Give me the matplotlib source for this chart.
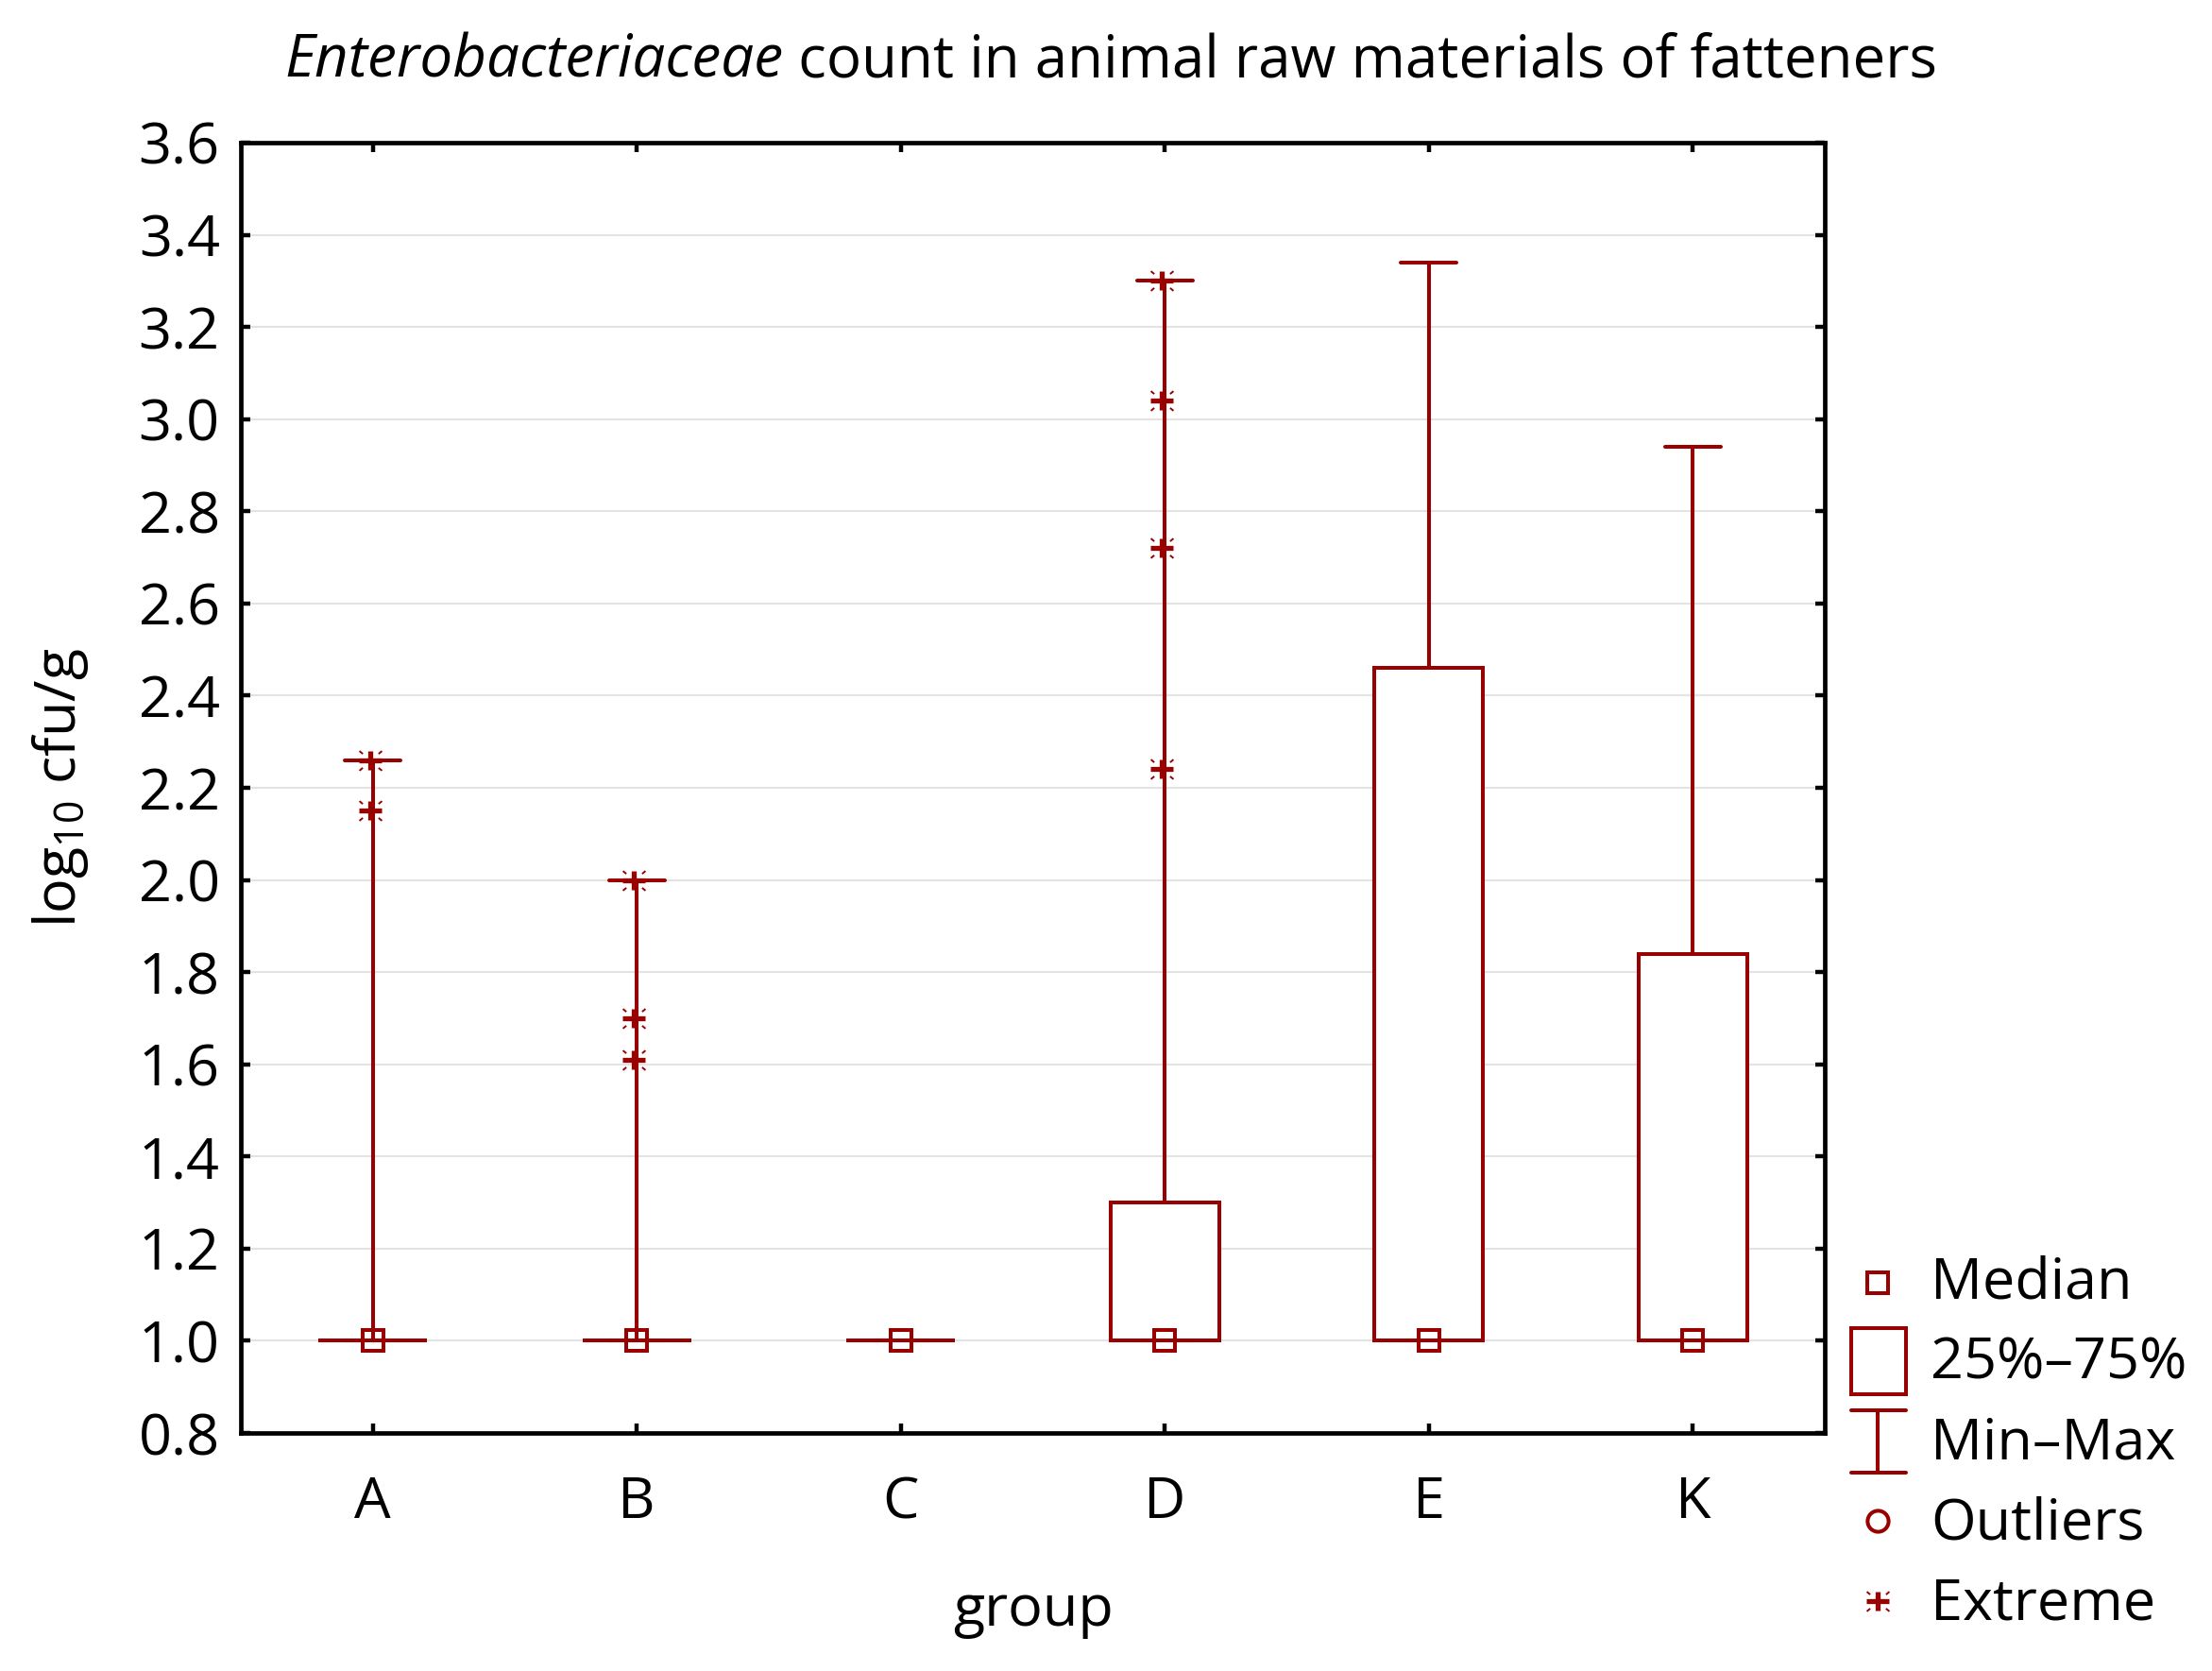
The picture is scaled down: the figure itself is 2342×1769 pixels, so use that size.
import matplotlib
matplotlib.use('Agg')
import matplotlib.pyplot as plt
from matplotlib.path import Path
from matplotlib.patches import Rectangle
import numpy as np

# ---- data ----
groups = ['A', 'B', 'C', 'D', 'E', 'K']
medians = [1.0, 1.0, 1.0, 1.0, 1.0, 1.0]
q1 = [1.0, 1.0, 1.0, 1.0, 1.0, 1.0]
q3 = [1.0, 1.0, 1.0, 1.30, 2.46, 1.84]
mins = [1.0, 1.0, 1.0, 1.0, 1.0, 1.0]
maxs = [2.26, 2.00, 1.00, 3.30, 3.34, 2.94]
extreme_A = [2.26, 2.15]
extreme_B = [2.00, 1.70, 1.61]
extreme_C = []
extreme_D = [3.30, 3.04, 2.72, 2.24]
extreme_E = []
extreme_K = []
extremes = [extreme_A, extreme_B, extreme_C, extreme_D, extreme_E, extreme_K]
yticks = [0.8, 1.0, 1.2, 1.4, 1.6, 1.8, 2.0, 2.2, 2.4, 2.6, 2.8, 3.0, 3.2, 3.4, 3.6]
legend_labels = ['Median', '25%\u201375%', 'Min\u2013Max', 'Outliers', 'Extreme']
title_italic = 'Enterobacteriaceae'
title_rest = ' count in animal raw materials of fatteners'

RED = '#990000'
FS = 22
LW = 1.45

plt.rcParams['font.family'] = ['Open Sans', 'DejaVu Sans']
plt.rcParams['mathtext.fontset'] = 'custom'
plt.rcParams['mathtext.rm'] = 'Open Sans'

W, H = 2342, 1769
AX_L, AX_R, AX_T, AX_B = 255, 1932, 151, 1517
fig = plt.figure(figsize=(W / 200, H / 200), dpi=200)
ax = fig.add_axes([AX_L / W, 1 - AX_B / H, (AX_R - AX_L) / W, (AX_B - AX_T) / H])

# extreme marker: thick plus + thin corner dashes
plus_path = Path([(-1, 0), (1, 0), (0, -0.87), (0, 0.87)],
                 [Path.MOVETO, Path.LINETO, Path.MOVETO, Path.LINETO])
dv, dc = [], []
for sx in (-1, 1):
    for sy in (-1, 1):
        dv += [(0.70 * sx, 0.62 * sy), (1.0 * sx, 0.87 * sy)]
        dc += [Path.MOVETO, Path.LINETO]
diag_path = Path(dv, dc)

x = np.arange(1, len(groups) + 1)
BW = 0.41
CW = 0.21
for i in range(len(groups)):
    xi = x[i]
    ax.vlines(xi, q3[i], maxs[i], color=RED, lw=LW, zorder=3)
    ax.vlines(xi, mins[i], q1[i], color=RED, lw=LW, zorder=3)
    ax.hlines([mins[i], maxs[i]], xi - CW / 2, xi + CW / 2, color=RED, lw=LW,
              zorder=3, capstyle='round')
    ax.add_patch(Rectangle((xi - BW / 2, q1[i]), BW, q3[i] - q1[i], fc='white',
                           ec=RED, lw=LW, zorder=4))
    if extremes[i]:
        ex = [xi - 0.01] * len(extremes[i])
        ax.plot(ex, extremes[i], linestyle='none', marker=plus_path, ms=8.6,
                mec=RED, mew=1.9, zorder=6)
        ax.plot(ex, extremes[i], linestyle='none', marker=diag_path, ms=8.6,
                mec=RED, mew=0.7, zorder=6)
ax.plot(x, medians, linestyle='none', marker='s', ms=8, mfc='none', mec=RED,
        mew=LW, zorder=5)

ax.set_xlim(0.5, len(groups) + 0.5)
ax.set_ylim(0.8, 3.6)
ax.set_xticks(x)
ax.set_xticklabels(groups)
ax.set_yticks(yticks)
ax.set_yticklabels([f'{v:.1f}' for v in yticks])
ax.yaxis.grid(True, color='#e3e3e3', lw=0.75)
ax.set_axisbelow(True)
for s in ax.spines.values():
    s.set_linewidth(1.7)
ax.tick_params(axis='both', direction='in', length=3.6, width=1.6, top=True,
               right=True, labelsize=FS, colors='black')
ax.tick_params(axis='y', pad=8)
ax.tick_params(axis='x', pad=16)

ax.set_xlabel('group', fontsize=FS, va='center')
ax.xaxis.set_label_coords(0.5, -(1705 - AX_B) / (AX_B - AX_T))
ax.set_ylabel(r'log$_{\mathregular{10}}$ cfu/g', fontsize=FS, va='center')
ax.yaxis.set_label_coords(-(AX_L - 64) / (AX_R - AX_L), 0.5)

# title: italic + regular part, centred together
TFS = 22.3
ty = 1 - 82 / H
t1 = fig.text(0, ty, title_italic, style='italic', fontsize=TFS, va='baseline')
t2 = fig.text(0, ty, title_rest, fontsize=TFS, va='baseline')
fig.canvas.draw()
r = fig.canvas.get_renderer()
w1 = t1.get_window_extent(r).width
w2 = t2.get_window_extent(r).width
x0 = (0.5035 * W - 3) - (w1 + w2) / 2
t1.set_x(x0 / W)
t2.set_x((x0 + w1) / W)

# legend drawn in pixel coordinates on an overlay axes
lg = fig.add_axes([0, 0, 1, 1], zorder=10)
lg.set_xlim(0, W)
lg.set_ylim(H, 0)
lg.axis('off')
lx = 1988
lg.plot([lx], [1358], marker='s', ms=8, mfc='none', mec=RED, mew=LW, linestyle='none')
lg.add_patch(Rectangle((1960, 1406), 58, 70, fc='white', ec=RED, lw=LW))
lg.plot([lx, lx], [1493, 1559], color=RED, lw=LW)
lg.plot([1960, 2018], [1493, 1493], color=RED, lw=LW, solid_capstyle='round')
lg.plot([1960, 2018], [1559, 1559], color=RED, lw=LW, solid_capstyle='round')
lg.plot([lx], [1610], marker='o', ms=8, mfc='none', mec=RED, mew=LW, linestyle='none')
lg.plot([lx], [1695], marker=plus_path, ms=8.6, mec=RED, mew=1.9, linestyle='none')
lg.plot([lx], [1695], marker=diag_path, ms=8.6, mec=RED, mew=0.7, linestyle='none')
ly = [1358, 1443, 1528, 1613, 1698]
for lab, yy in zip(legend_labels, ly):
    lg.text(2044, yy, lab, fontsize=FS, va='center', ha='left')

fig.savefig('out.png', dpi=200)
